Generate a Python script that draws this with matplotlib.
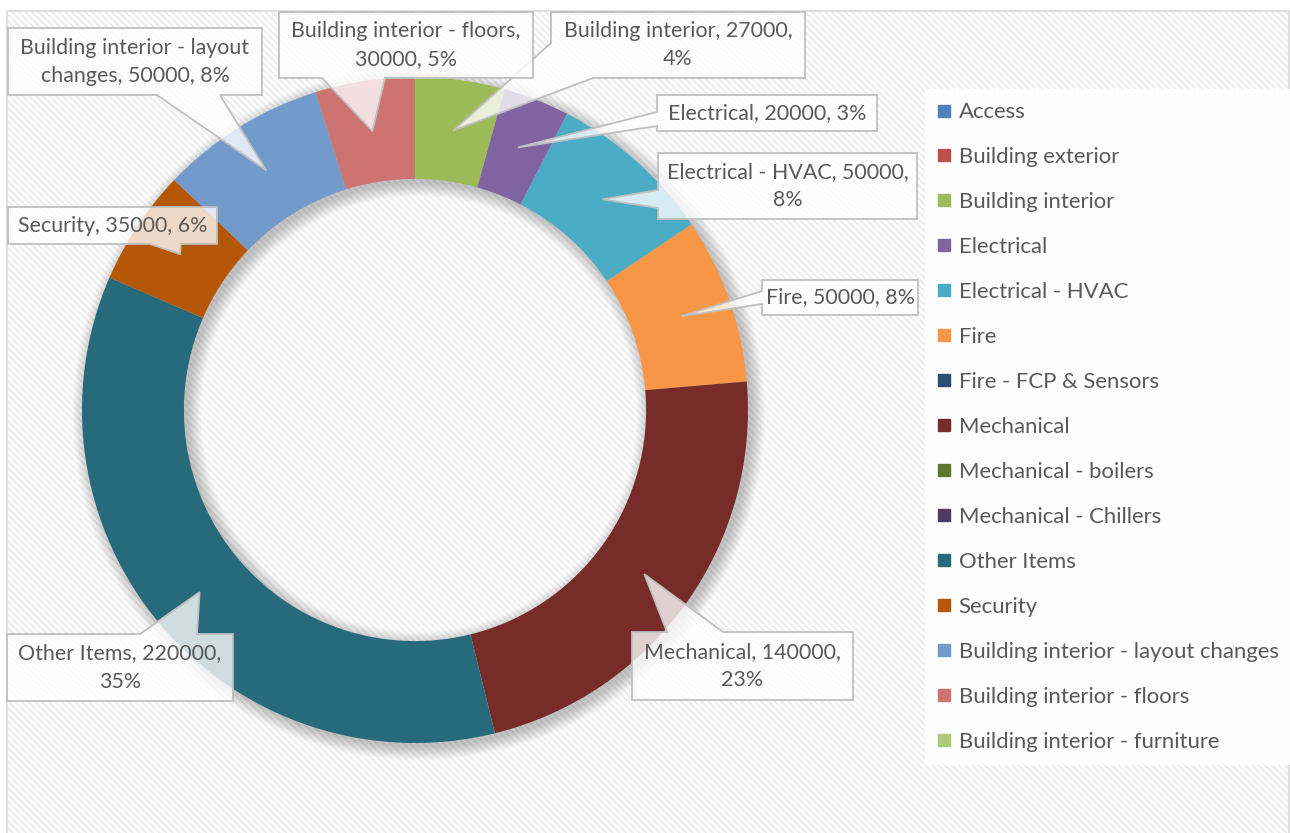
import textwrap
import matplotlib
matplotlib.use("Agg")
import matplotlib.pyplot as plt
from matplotlib.patches import Rectangle, Polygon, Wedge
from matplotlib.lines import Line2D
import numpy as np

# ---------------- data ----------------
categories = ["Access", "Building exterior", "Building interior", "Electrical",
              "Electrical - HVAC", "Fire", "Fire - FCP & Sensors", "Mechanical",
              "Mechanical - boilers", "Mechanical - Chillers", "Other Items",
              "Security", "Building interior - layout changes",
              "Building interior - floors", "Building interior - furniture"]
values = [0, 0, 27000, 20000, 50000, 50000, 0, 140000, 0, 0, 220000, 35000,
          50000, 30000, 0]
colors = ["#4F81BD", "#C0504D", "#9BBB59", "#8064A2", "#4BACC6", "#F79646",
          "#2C4D75", "#772C2A", "#5F7530", "#4D3B62", "#276A7C", "#B65708",
          "#729ACA", "#CD7371", "#AFC97A"]

# ---------------- layout (pixels) ----------------
W, H = 1290, 833
CX, CY, RPX = 415, 410, 333          # donut centre / radius in px
INNER = 0.694                         # hole radius fraction
# label box: (x0, y0, x1, y1), wrap width, pointer side, base a, base b
label_layout = {
    "Building interior - layout changes": ((8, 28, 262, 95), 27, "bottom", 157, 220),
    "Building interior - floors": ((279, 12, 533, 78), 27, "bottom", 322, 385),
    "Building interior": ((551, 12, 805, 78), 27, "bottomleft", 593, 43),
    "Electrical": ((657, 95, 877, 131), 27, "left", 112, 126),
    "Electrical - HVAC": ((658, 153, 917, 219), 27, "left", 190, 208),
    "Fire": ((762, 280, 918, 315), 27, "left", 291, 304),
    "Mechanical": ((632, 632, 853, 700), 20, "top", 667, 723),
    "Other Items": ((7, 634, 233, 701), 20, "top", 140, 197),
    "Security": ((8, 207, 217, 244), 27, "bottom", 150, 181),
}

TXT = "#595959"
FONT = ["Lato", "DejaVu Sans"]
FS_LABEL = 15.4
FS_LEG = 15.9
plt.rcParams["font.family"] = FONT
plt.rcParams["hatch.linewidth"] = 1.4


def X(px):
    return (px - CX) / RPX


def Y(py):
    return (CY - py) / RPX


fig = plt.figure(figsize=(W / 100, H / 100), dpi=100)
fig.patch.set_facecolor("white")
ax = fig.add_axes([0, 0, 1, 1])
ax.set_axis_off()

# chart area background with fine diagonal stripes
bg = Rectangle((X(7), Y(850)), X(1289) - X(7), Y(11) - Y(850),
               facecolor="white", edgecolor="#EDEDED", hatch="\\\\\\\\\\", lw=0, zorder=0)
ax.add_patch(bg)
ax.add_patch(Rectangle((X(7), Y(850)), X(1289) - X(7), Y(11) - Y(850),
                       facecolor="none", edgecolor="#D9D9D9", lw=1.2, zorder=0.5))

# soft shadow of the ring
off = 4 / RPX
for k in range(12):
    s = k * 1.2 / RPX
    ax.add_patch(Wedge((off, -off), 1 + s, 0, 360, width=(1 - INNER) + 2 * s,
                       facecolor="black", edgecolor="none", alpha=0.018, zorder=1))

wedges, _ = ax.pie(values, colors=colors, startangle=90, counterclock=False,
                   radius=1, center=(0, 0),
                   wedgeprops=dict(width=1 - INNER, edgecolor="none"))
for w in wedges:
    w.set_zorder(2)

total = sum(values)


def callout_path(box, side, a, b, apex):
    x0, y0, x1, y1 = box
    TL, TR, BR, BL = (x0, y0), (x1, y0), (x1, y1), (x0, y1)
    if side == "top":
        pts = [TL, (a, y0), apex, (b, y0), TR, BR, BL]
    elif side == "right":
        pts = [TL, TR, (x1, a), apex, (x1, b), BR, BL]
    elif side == "bottom":
        pts = [TL, TR, BR, (b, y1), apex, (a, y1), BL]
    elif side == "left":
        pts = [TL, TR, BR, BL, (x0, b), apex, (x0, a)]
    else:  # bottomleft corner: a = x on bottom, b = y on left
        pts = [TL, TR, BR, (a, y1), apex, (x0, b)]
    return [(X(p[0]), Y(p[1])) for p in pts]


rmid = (1 + INNER) / 2
for cat, val, w in zip(categories, values, wedges):
    if val == 0 or cat not in label_layout:
        continue
    box, wrapw, side, a, b = label_layout[cat]
    pct = int(round(val / total * 100))
    text = textwrap.fill(f"{cat}, {val}, {pct}%", width=wrapw)
    ang = np.deg2rad((w.theta1 + w.theta2) / 2)
    apex = (CX + RPX * rmid * np.cos(ang), CY - RPX * rmid * np.sin(ang))
    poly = Polygon(callout_path(box, side, a, b, apex), closed=True,
                   facecolor=(1, 1, 1, 0.78), edgecolor="#BFBFBF", lw=1.3, zorder=5)
    ax.add_patch(poly)
    ax.text(X((box[0] + box[2]) / 2), Y((box[1] + box[3]) / 2), text,
            ha="center", va="center", ma="center", fontsize=FS_LABEL, color=TXT,
            linespacing=1.5, zorder=6)

handles = [Line2D([], [], marker="s", linestyle="none", markersize=8.6,
                  markerfacecolor=c, markeredgecolor=c) for c in colors]
leg = ax.legend(handles, categories, loc="upper left",
                bbox_to_anchor=(X(925), Y(89)), bbox_transform=ax.transData,
                frameon=True, facecolor="white", edgecolor="none", fancybox=False,
                framealpha=0.92, fontsize=FS_LEG, labelspacing=1.13,
                handlelength=0.55, handletextpad=0.37, borderpad=0.6,
                borderaxespad=0)
for t in leg.get_texts():
    t.set_color(TXT)
leg.set_zorder(7)

ax.set_xlim(X(0), X(W))
ax.set_ylim(Y(H), Y(0))
ax.set_aspect("auto")

fig.savefig("out.png", dpi=100, facecolor="white")
